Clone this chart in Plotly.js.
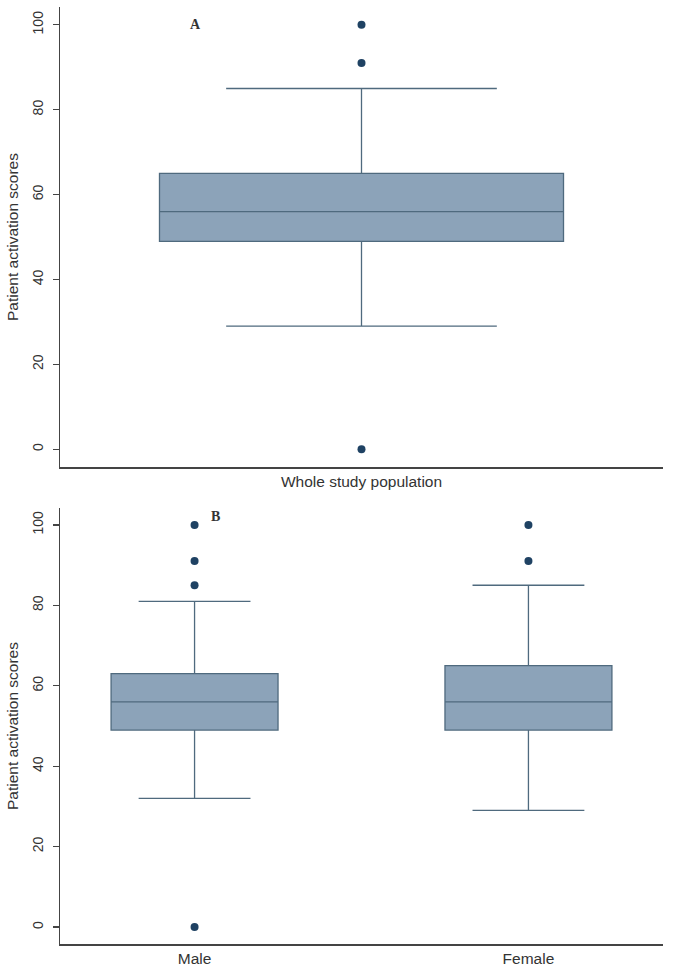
<!DOCTYPE html>
<html>
<head>
<meta charset="utf-8">
<script src="https://cdn.plot.ly/plotly-3.0.1.min.js"></script>
<style>html,body{margin:0;padding:0;background:#fff;}#chart{width:674px;height:972px;}</style>
</head>
<body>
<div id="chart"></div>
<script>
// Panel A: whole study population
const catsA = ["Whole study population"];
const q1A = [49], medA = [56], q3A = [65], loA = [29], hiA = [85];
const outA = [100, 91, 0];

// Panel B: by sex
const catsB = ["Male", "Female"];
const q1B = [49, 49], medB = [56, 56], q3B = [63, 65], loB = [32, 29], hiB = [81, 85];
const outMale = [100, 91, 85, 0];
const outFemale = [100, 91];

const yTicks = [0, 20, 40, 60, 80, 100];

const boxFill = "#8ca3b9", boxLine = "#4f6a7e", dot = "#1f4263";

const boxStyle = {
  type: "box", fillcolor: boxFill, line: {color: boxLine, width: 1.3},
  boxpoints: false, whiskerwidth: 0.67, showlegend: false, hoverinfo: "skip"
};

const traces = [
  Object.assign({}, boxStyle, {
    x: [0], q1: q1A, median: medA, q3: q3A, lowerfence: loA, upperfence: hiA,
    width: 0.67, xaxis: "x", yaxis: "y"
  }),
  {type: "scatter", mode: "markers", x: outA.map(() => 0), y: outA,
   marker: {color: dot, size: 8}, xaxis: "x", yaxis: "y", showlegend: false},
  Object.assign({}, boxStyle, {
    x: [0, 1], q1: q1B, median: medB, q3: q3B, lowerfence: loB, upperfence: hiB,
    width: 0.5, xaxis: "x2", yaxis: "y2"
  }),
  {type: "scatter", mode: "markers", x: outMale.map(() => 0), y: outMale,
   marker: {color: dot, size: 8}, xaxis: "x2", yaxis: "y2", showlegend: false},
  {type: "scatter", mode: "markers", x: outFemale.map(() => 1), y: outFemale,
   marker: {color: dot, size: 8}, xaxis: "x2", yaxis: "y2", showlegend: false}
];

const tickFont = {family: "Liberation Sans, Arial, sans-serif", size: 14, color: "#333"};
const titleFont = {family: "Liberation Sans, Arial, sans-serif", size: 15.5, color: "#333"};

function yax(domain, anchor) {
  return {
    domain: domain, anchor: anchor, range: [-4.2, 104.2],
    tickvals: yTicks, ticks: "outside", ticklen: 6, tickcolor: "#444", tickwidth: 1.3,
    ticklabelstandoff: 4,
    tickangle: -90, tickfont: tickFont, showgrid: false, zeroline: false,
    showline: true, linecolor: "#444", linewidth: 1.5,
    title: {text: "Patient activation scores", font: titleFont, standoff: 7}
  };
}
function xax(domain, anchor, range, vals, texts) {
  return {
    domain: domain, anchor: anchor, range: range,
    tickvals: vals, ticktext: texts, ticks: "", tickfont: {family: tickFont.family, size: 15.5, color: "#333"},
    showgrid: false, zeroline: false, showline: true, linecolor: "#444", linewidth: 1.5
  };
}

const layout = {
  width: 674, height: 972,
  margin: {l: 60, r: 11, t: 7, b: 28},
  paper_bgcolor: "#fff", plot_bgcolor: "#fff",
  xaxis: xax([0, 1], "y", [-0.5, 0.5], [0], catsA),
  yaxis: yax([0.509, 1], "x"),
  xaxis2: xax([0, 1], "y2", [-0.403, 1.403], [0, 1], catsB),
  yaxis2: yax([0, 0.4653], "x2"),
  annotations: [
    {text: "<b>A</b>", xref: "paper", yref: "paper", x: (188 - 60) / 603, y: (944 - 15) / 937,
     showarrow: false, font: {family: "Liberation Serif, serif", size: 14, color: "#333"}},
    {text: "<b>B</b>", xref: "paper", yref: "paper", x: (209 - 60) / 603, y: (944 - 516) / 937,
     showarrow: false, font: {family: "Liberation Serif, serif", size: 14, color: "#333"}}
  ]
};

Plotly.newPlot("chart", traces, layout, {displayModeBar: false, staticPlot: true});
</script>
</body>
</html>
